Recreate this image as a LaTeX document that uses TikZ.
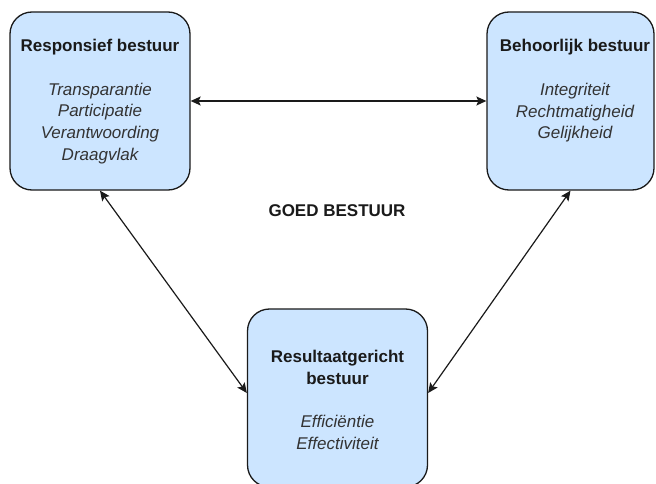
\documentclass[tikz,border=0pt]{standalone}
\usepackage{fontspec}
\setmainfont{Liberation Sans}
\usetikzlibrary{arrows.meta}
\definecolor{boxfill}{HTML}{CCE5FF}
\definecolor{boxline}{HTML}{1A1A1A}
\definecolor{itemgray}{HTML}{333333}
\begin{document}
\begin{tikzpicture}[x=1pt,y=-1pt,
  panel/.style={draw=boxline, line width=1.3pt, fill=boxfill,
    rounded corners=22pt, minimum width=180pt, minimum height=178pt,
    inner sep=0pt},
  paneltext/.style={align=center, text=boxline, inner sep=0pt,
    font=\fontsize{17}{21.7}\selectfont},
  item/.style={},
  link/.style={draw=boxline, line width=1.2pt,
    {Stealth[length=10pt,width=9pt,inset=2pt]}-{Stealth[length=10pt,width=9pt,inset=2pt]}}]
  \useasboundingbox (0,0) rectangle (656,484);
  \fill[white] (0,0) rectangle (656,484);

  % three panels
  \node[panel] (resp) at (100,101) {};
  \node[panel, minimum width=167pt] (behoor) at (570.5,101) {};
  \node[panel] (result) at (337.5,398) {};

  % panel contents
  \node[paneltext] (resptext) at (100,101.5)
    {\textbf{Responsief bestuur}\\[21.7pt]
     \textcolor{itemgray}{\itshape Transparantie}\\
     \textcolor{itemgray}{\itshape Participatie}\\
     \textcolor{itemgray}{\itshape Verantwoording}\\
     \textcolor{itemgray}{\itshape Draagvlak}};
  \node[paneltext] (behoortext) at (575,91)
    {\textbf{Behoorlijk bestuur}\\[21.7pt]
     \textcolor{itemgray}{\itshape Integriteit}\\
     \textcolor{itemgray}{\itshape Rechtmatigheid}\\
     \textcolor{itemgray}{\itshape Gelijkheid}};
  \node[paneltext] (resulttext) at (337.5,400)
    {\textbf{Resultaatgericht}\\
     \textbf{bestuur}\\[21.7pt]
     \textcolor{itemgray}{\itshape Efficiëntie}\\
     \textcolor{itemgray}{\itshape Effectiviteit}};

  % central caption
  \node[paneltext] (caption) at (337,211) {\textbf{GOED BESTUUR}};

  % connectors
  \draw[link] (resp.east) -- (behoor.west);
  \draw[link] (resp.south) -- ([yshift=5pt]result.west);
  \draw[link] (behoor.south) -- ([yshift=5pt]result.east);
\end{tikzpicture}
\end{document}
